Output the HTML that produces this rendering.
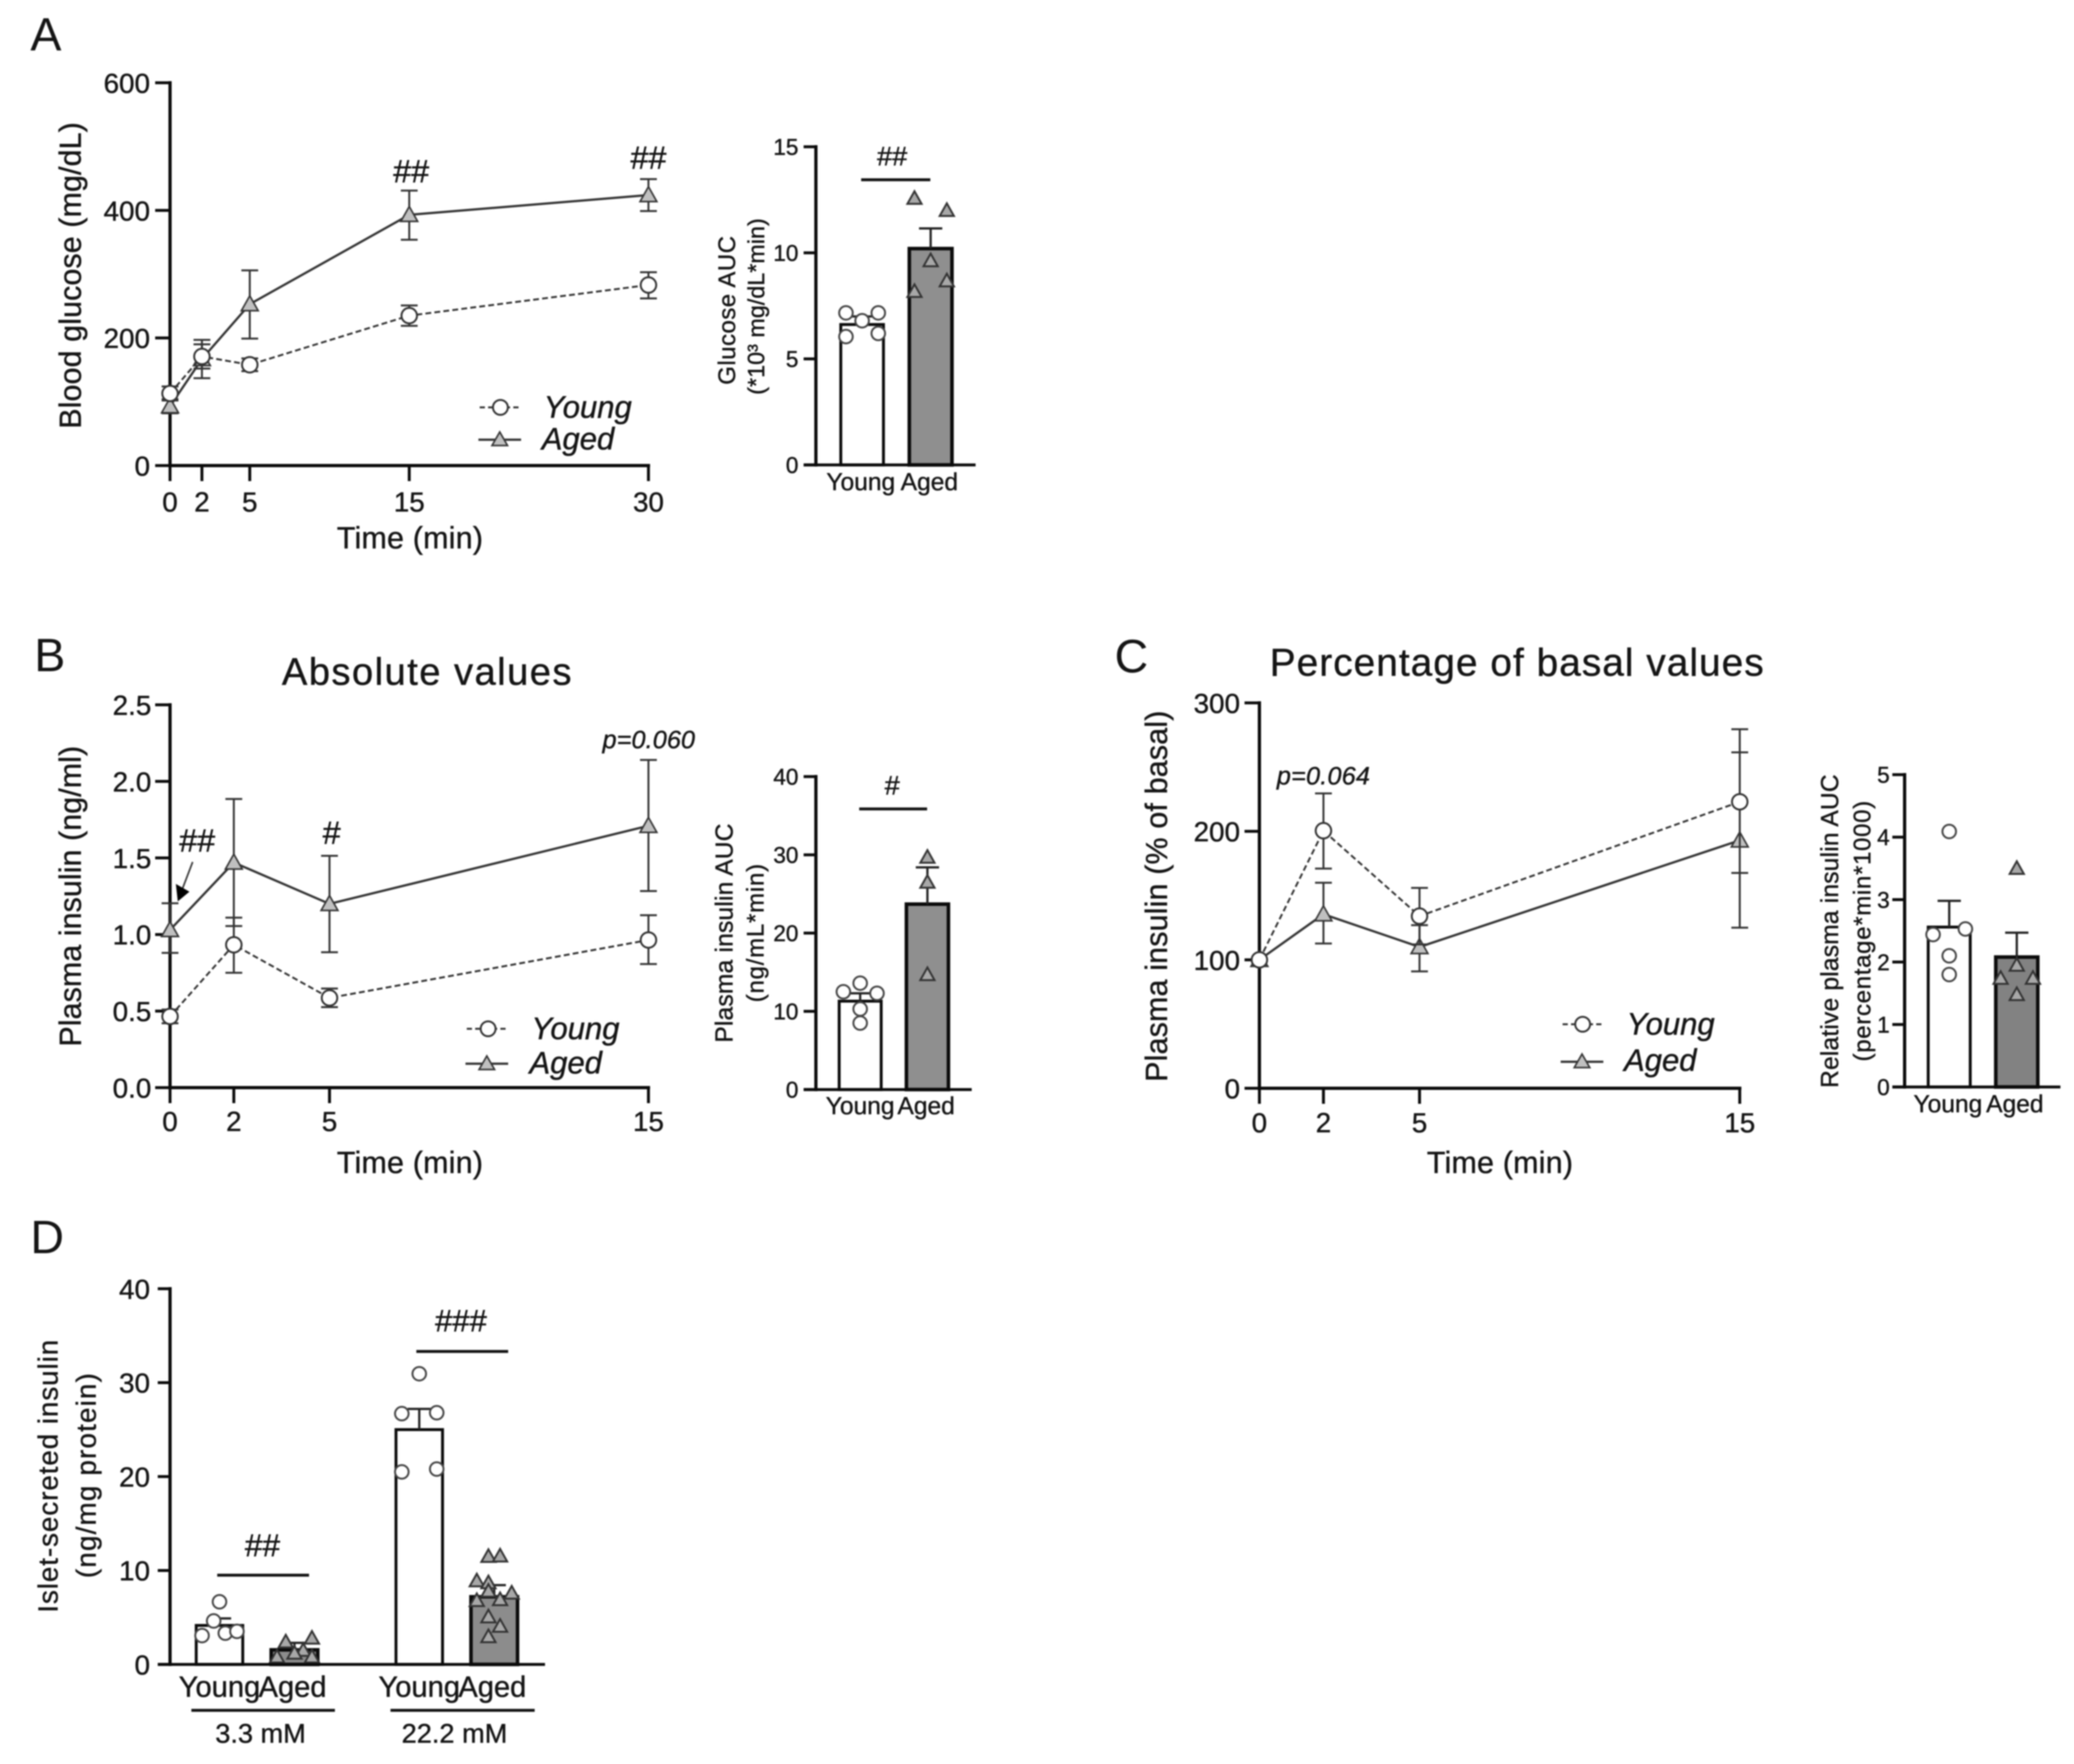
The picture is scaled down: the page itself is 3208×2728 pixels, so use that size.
<!DOCTYPE html>
<html lang="en">
<head>
<meta charset="utf-8">
<title>Glucose and insulin in young and aged groups</title>
<style>
html,body{margin:0;padding:0;background:#fff;width:3208px;height:2728px;overflow:hidden}
svg{display:block;filter:blur(1px)}
text{font-family:"Liberation Sans",Arial,sans-serif;fill:#141414;stroke:#141414;stroke-width:.6px}
text.thin{stroke:none}
</style>
</head>
<body>
<svg id="fig" xmlns="http://www.w3.org/2000/svg" width="3208" height="2728" viewBox="0 0 3208 2728">
<rect width="3208" height="2728" fill="#fff"/>

<g id="panel-a">
  <text class="thin" x="47" y="78" font-size="72">A</text>
  <text transform="translate(125 426) rotate(-90)" text-anchor="middle" font-size="47" textLength="474">Blood glucose (mg/dL)</text>
  <text x="634" y="848" text-anchor="middle" font-size="47" textLength="226">Time (min)</text>
  <text x="636" y="282" text-anchor="middle" font-size="50">##</text>
  <text x="1003" y="261" text-anchor="middle" font-size="50">##</text>
  <g>
    <line x1="742" y1="630" x2="807" y2="630" stroke="#333" stroke-width="3" stroke-dasharray="8 5"/>
    <circle cx="774" cy="630" r="11.5" fill="#fff" stroke="#333" stroke-width="3"/>
    <text x="841" y="646" font-size="48" font-style="italic">Young</text>
    <line x1="740" y1="680" x2="806" y2="680" stroke="#333" stroke-width="3.5"/>
    <polygon points="773,668 785,689 761,689" fill="#c0c0c0" stroke="#333" stroke-width="2.5"/>
    <text x="838" y="695" font-size="48" font-style="italic">Aged</text>
  </g>
</g>
<g id="panel-a-auc">
  <text transform="translate(1137 480) rotate(-90)" text-anchor="middle" font-size="37" textLength="230">Glucose AUC</text>
  <text transform="translate(1182 474) rotate(-90)" text-anchor="middle" font-size="36" textLength="273">(*10³ mg/dL*min)</text>
  <text x="1380" y="256" text-anchor="middle" font-size="42">##</text>
  <line x1="1332" y1="278" x2="1439" y2="278" stroke="#111" stroke-width="4.5"/>
</g>

<g id="panel-b">
  <text class="thin" x="53" y="1038" font-size="72">B</text>
  <text x="436" y="1059" font-size="59" textLength="448">Absolute values</text>
  <text transform="translate(125 1386) rotate(-90)" text-anchor="middle" font-size="47" textLength="465">Plasma insulin (ng/ml)</text>
  <text x="634" y="1814" text-anchor="middle" font-size="47" textLength="226">Time (min)</text>
  <text x="305" y="1317" text-anchor="middle" font-size="50">##</text>
  <line x1="298" y1="1333" x2="282" y2="1375" stroke="#333" stroke-width="2.5"/>
  <polygon points="272,1367 293,1379 275,1394" fill="#000"/>
  <text x="513" y="1305" text-anchor="middle" font-size="50">#</text>
  <text x="932" y="1157" font-size="39" font-style="italic" textLength="143">p=0.060</text>
  <g>
    <line x1="722" y1="1591" x2="787" y2="1591" stroke="#333" stroke-width="3" stroke-dasharray="8 5"/>
    <circle cx="755" cy="1591" r="11.5" fill="#fff" stroke="#333" stroke-width="3"/>
    <text x="822" y="1607" font-size="48" font-style="italic">Young</text>
    <line x1="720" y1="1645" x2="786" y2="1645" stroke="#333" stroke-width="3.5"/>
    <polygon points="753,1633 765,1654 741,1654" fill="#c0c0c0" stroke="#333" stroke-width="2.5"/>
    <text x="819" y="1660" font-size="48" font-style="italic">Aged</text>
  </g>
</g>
<g id="panel-b-auc">
  <text transform="translate(1133 1443) rotate(-90)" text-anchor="middle" font-size="38" textLength="339">Plasma insulin AUC</text>
  <text transform="translate(1181 1443) rotate(-90)" text-anchor="middle" font-size="37" textLength="214">(ng/mL*min)</text>
  <text x="1380" y="1229" text-anchor="middle" font-size="42">#</text>
  <line x1="1329" y1="1251" x2="1434" y2="1251" stroke="#111" stroke-width="4.5"/>
</g>

<g id="panel-c">
  <text class="thin" x="1724" y="1040" font-size="72">C</text>
  <text x="1964" y="1045" font-size="60" textLength="764">Percentage of basal values</text>
  <text transform="translate(1805 1386) rotate(-90)" text-anchor="middle" font-size="47" textLength="574">Plasma insulin (% of basal)</text>
  <text x="2320" y="1814" text-anchor="middle" font-size="47" textLength="226">Time (min)</text>
  <text x="1975" y="1213" font-size="39" font-style="italic" textLength="144">p=0.064</text>
  <g>
    <line x1="2417" y1="1584" x2="2482" y2="1584" stroke="#333" stroke-width="3" stroke-dasharray="8 5"/>
    <circle cx="2448" cy="1584" r="11.5" fill="#fff" stroke="#333" stroke-width="3"/>
    <text x="2516" y="1600" font-size="48" font-style="italic">Young</text>
    <line x1="2414" y1="1642" x2="2480" y2="1642" stroke="#333" stroke-width="3.5"/>
    <polygon points="2447,1630 2459,1651 2435,1651" fill="#c0c0c0" stroke="#333" stroke-width="2.5"/>
    <text x="2512" y="1656" font-size="48" font-style="italic">Aged</text>
  </g>
</g>
<g id="panel-c-auc">
  <text transform="translate(2843 1440) rotate(-90)" text-anchor="middle" font-size="38" textLength="485">Relative plasma insulin AUC</text>
  <text transform="translate(2893 1440) rotate(-90)" text-anchor="middle" font-size="37" textLength="403">(percentage*min*1000)</text>
</g>

<g id="panel-d">
  <text class="thin" x="47" y="1938" font-size="72">D</text>
  <text transform="translate(89 2283) rotate(-90)" text-anchor="middle" font-size="43" textLength="422">Islet-secreted insulin</text>
  <text transform="translate(148 2282) rotate(-90)" text-anchor="middle" font-size="43" textLength="317">(ng/mg protein)</text>
  <text x="406" y="2407" text-anchor="middle" font-size="49">##</text>
  <line x1="336" y1="2436" x2="478" y2="2436" stroke="#111" stroke-width="4.5"/>
  <text x="713" y="2059" text-anchor="middle" font-size="48">###</text>
  <line x1="644" y1="2090" x2="786" y2="2090" stroke="#111" stroke-width="4.5"/>
  <line x1="296" y1="2645" x2="518" y2="2645" stroke="#111" stroke-width="4.5"/>
  <line x1="604" y1="2645" x2="827" y2="2645" stroke="#111" stroke-width="4.5"/>
  <text x="403" y="2695" text-anchor="middle" font-size="42">3.3 mM</text>
  <text x="703" y="2695" text-anchor="middle" font-size="42">22.2 mM</text>
</g>
</svg>

<script>
/* ---------- Panel A: blood glucose time course ---------- */
const glucoseTimes = [0, 2, 5, 15, 30];
const glucoseYoung = [113, 171, 158, 235, 283];
const glucoseYoungHigh = [124, 190, 168, 251, 303];
const glucoseYoungLow = [102, 152, 148, 219, 262];
const glucoseAged = [93, 167, 253, 393, 424];
const glucoseAgedHigh = [104, 197, 306, 431, 449];
const glucoseAgedLow = [82, 137, 199, 354, 399];
const glucoseTicks = [0, 200, 400, 600];
const glucoseTickLabels = ['0', '200', '400', '600'];

/* Panel A: glucose AUC */
const groupLabels = ['Young', 'Aged'];
const glucoseAucMeans = [6.62, 10.2];
const glucoseAucErrTop = [7.0, 11.15];
const glucoseAucYoungPoints = [7.17, 7.17, 6.8, 6.05, 6.2];
const glucoseAucAgedPoints = [12.57, 12.0, 9.63, 8.68, 8.18];
const glucoseAucTicks = [0, 5, 10, 15];
const glucoseAucTickLabels = ['0', '5', '10', '15'];

/* ---------- Panel B: plasma insulin absolute ---------- */
const insulinTimes = [0, 2, 5, 15];
const insulinYoung = [0.465, 0.933, 0.586, 0.964];
const insulinYoungHigh = [0.51, 1.11, 0.647, 1.126];
const insulinYoungLow = [0.42, 0.75, 0.526, 0.807];
const insulinAged = [1.03, 1.47, 1.2, 1.71];
const insulinAgedHigh = [1.204, 1.885, 1.514, 2.14];
const insulinAgedLow = [0.88, 1.055, 0.884, 1.284];
const insulinTicks = [0, 0.5, 1, 1.5, 2, 2.5];
const insulinTickLabels = ['0.0', '0.5', '1.0', '1.5', '2.0', '2.5'];

/* Panel B: insulin AUC */
const insulinAucMeans = [11.3, 23.7];
const insulinAucErrTop = [12.3, 28.4];
const insulinAucYoungPoints = [13.6, 12.5, 12.3, 10.3, 8.5];
const insulinAucAgedPoints = [29.7, 26.5, 14.7];
const insulinAucTicks = [0, 10, 20, 30, 40];
const insulinAucTickLabels = ['0', '10', '20', '30', '40'];

/* ---------- Panel C: plasma insulin % of basal ---------- */
const basalTimes = [0, 2, 5, 15];
const basalYoung = [100, 200.5, 134, 223];
const basalYoungHigh = [100, 229.5, 156, 261.5];
const basalYoungLow = [100, 171, 112, 167.6];
const basalAged = [100, 135.5, 110, 193];
const basalAgedHigh = [100, 160, 127, 279.5];
const basalAgedLow = [100, 112.7, 91, 125];
const basalTicks = [0, 100, 200, 300];
const basalTickLabels = ['0', '100', '200', '300'];

/* Panel C: relative insulin AUC */
const relativeAucMeans = [2.56, 2.08];
const relativeAucErrTop = [2.98, 2.47];
const relativeAucYoungPoints = [4.09, 2.53, 2.44, 2.1, 1.8];
const relativeAucAgedPoints = [3.5, 1.95, 1.74, 1.74, 1.48];
const relativeAucTicks = [0, 1, 2, 3, 4, 5];
const relativeAucTickLabels = ['0', '1', '2', '3', '4', '5'];

/* ---------- Panel D: islet-secreted insulin ---------- */
const isletLabels = ['Young', 'Aged', 'Young', 'Aged'];
const isletMeans = [4.15, 1.55, 25.0, 7.2];
const isletErrTop = [4.9, 2.3, 27.2, 8.44];
const isletYoungLowPoints = [6.67, 4.63, 3.07, 3.33, 3.52];
const isletAgedLowPoints = [2.4, 2.8, 1.5, 1.2, 0.8, 0.8];
const isletYoungHighPoints = [30.95, 26.7, 26.8, 20.5, 20.8];
const isletAgedHighPoints = [11.5, 11.55, 8.9, 8.7, 7.8, 7.6, 6.8, 6.9, 5.07, 4.07, 2.96];
const isletTicks = [0, 10, 20, 30, 40];
const isletTickLabels = ['0', '10', '20', '30', '40'];

const NS = 'http://www.w3.org/2000/svg';
function el(parent, tag, attrs, name) {
  const n = document.createElementNS(NS, tag);
  for (const k in attrs) n.setAttribute(k, attrs[k]);
  
  
  parent.appendChild(n);
  return n;
}
function linear(d0, d1, r0, r1) {
  return function (v) { return r0 + (v - d0) * (r1 - r0) / (d1 - d0); };
}
function seg(p, x1, y1, x2, y2, stroke, w, name, dash) {
  const a = { x1: x1, y1: y1, x2: x2, y2: y2, stroke: stroke, 'stroke-width': w };
  if (dash) a['stroke-dasharray'] = dash;
  return el(p, 'line', a, name);
}
function label(p, x, y, str, size, anchor, name) {
  const t = el(p, 'text', { x: x, y: y, 'font-size': size, 'text-anchor': anchor }, name);
  t.textContent = str;
  return t;
}
function triangle(p, x, y, s, fill, stroke, w, name) {
  const pts = x + ',' + (y - s) + ' ' + (x + s) + ',' + (y + s * 0.78) + ' ' + (x - s) + ',' + (y + s * 0.78);
  return el(p, 'polygon', { points: pts, fill: fill, stroke: stroke, 'stroke-width': w }, name);
}
function circle(p, x, y, r, w, stroke, name) {
  return el(p, 'circle', { cx: x, cy: y, r: r, fill: '#fff', stroke: stroke, 'stroke-width': w }, name);
}
function yAxis(p, axisX, sy, ticks, labels, tickLen, fontSize, textRight, bottom, top) {
  const g = el(p, 'g', {}, 'y-axis');
  seg(g, axisX, bottom + 2.5, axisX, top - 2.5, '#0a0a0a', 5, 'y-axis-line');
  ticks.forEach(function (t, i) {
    const y = sy(t);
    seg(g, axisX - tickLen, y, axisX, y, '#0a0a0a', 4.5, 'y-tick');
    label(g, textRight, y + fontSize * 0.36, labels[i], fontSize, 'end', 'y-tick-label');
  });
}

function lineChart(id, c) {
  const p = document.getElementById(id);
  const sx = linear(0, c.times[c.times.length - 1], c.x0, c.x1);
  const sy = linear(0, c.ticks[c.ticks.length - 1], c.y0, c.y1);
  yAxis(p, c.x0, sy, c.ticks, c.tickLabels, 23, 43, c.textRight, c.y0, c.y1);
  const gx = el(p, 'g', {}, 'x-axis');
  seg(gx, c.x0 - 2.5, c.y0, c.x1 + 2.5, c.y0, '#0a0a0a', 5, 'x-axis-line');
  c.times.forEach(function (t) {
    seg(gx, sx(t), c.y0, sx(t), c.y0 + 24, '#0a0a0a', 4.5, 'x-tick');
    label(gx, sx(t), c.y0 + c.xLabelOffset, String(t), 43, 'middle', 'x-tick-label');
  });
  function series(vals, hi, lo, kind) {
    const g = el(p, 'g', {}, kind + '-series');
    const pts = vals.map(function (v, i) { return sx(c.times[i]) + ',' + sy(v); }).join(' ');
    const lineAttrs = { points: pts, fill: 'none', stroke: '#333', 'stroke-width': kind === 'young' ? 3 : 3.5 };
    if (kind === 'young') lineAttrs['stroke-dasharray'] = '9 5';
    el(g, 'polyline', lineAttrs, kind + '-line');
    vals.forEach(function (v, i) {
      const x = sx(c.times[i]);
      if (hi[i] !== lo[i]) {
        seg(g, x, sy(hi[i]), x, sy(lo[i]), '#333', 3, kind + '-error-bar');
        seg(g, x - 13, sy(hi[i]), x + 13, sy(hi[i]), '#333', 3, kind + '-error-cap-high');
        seg(g, x - 13, sy(lo[i]), x + 13, sy(lo[i]), '#333', 3, kind + '-error-cap-low');
      }
      if (kind === 'young') circle(g, x, sy(v), 12, 3, '#333', 'young-point');
      else triangle(g, x, sy(v), 13, '#c0c0c0', '#333', 2.5, 'aged-point');
    });
  }
  series(c.aged, c.agedHigh, c.agedLow, 'aged');
  series(c.young, c.youngHigh, c.youngLow, 'young');
}

function barChart(id, c) {
  const p = document.getElementById(id);
  const sy = linear(0, c.ticks[c.ticks.length - 1], c.y0, c.y1);
  const center = function (i) { return c.start + i * c.step + Math.floor(i / 2) * (c.gap || 0); };
  yAxis(p, c.axisX, sy, c.ticks, c.tickLabels, 19, c.fontSize, c.textRight, c.y0, c.y1);
  c.means.forEach(function (m, i) {
    const aged = i % 2 === 1;
    const g = el(p, 'g', {}, (aged ? 'aged' : 'young') + '-bar-group');
    const x = center(i);
    const top = sy(m);
    el(g, 'rect', { x: x - c.width / 2, y: top, width: c.width, height: c.y0 - top,
      fill: aged ? c.fill : '#fff', stroke: '#0a0a0a', 'stroke-width': aged ? 5.5 : 4.5 }, 'bar');
    seg(g, x, top, x, sy(c.errTop[i]), '#222', 3.5, 'error-bar');
    seg(g, x - 18, sy(c.errTop[i]), x + 18, sy(c.errTop[i]), '#222', 3.5, 'error-cap');
    c.points[i].forEach(function (v, j) {
      const px = x + c.slots[i][j] * c.slot;
      if (aged) triangle(g, px, sy(v), 11, '#a8a8a8', '#333', 3, 'aged-point');
      else circle(g, px, sy(v), 10.5, 3, '#444', 'young-point');
    });
    label(g, x + c.labelShift[i], c.y0 + c.labelOffset, c.labels[i], c.labelSize, 'middle', 'category-label');
  });
  seg(p, c.axisX - 19, c.y0, c.xEnd, c.y0, '#0a0a0a', 4.5, 'x-axis-line');
}

lineChart('panel-a', { times: glucoseTimes, young: glucoseYoung, youngHigh: glucoseYoungHigh, youngLow: glucoseYoungLow,
  aged: glucoseAged, agedHigh: glucoseAgedHigh, agedLow: glucoseAgedLow, ticks: glucoseTicks, tickLabels: glucoseTickLabels,
  x0: 263, x1: 1003, y0: 720, y1: 128, textRight: 232, xLabelOffset: 71 });
lineChart('panel-b', { times: insulinTimes, young: insulinYoung, youngHigh: insulinYoungHigh, youngLow: insulinYoungLow,
  aged: insulinAged, agedHigh: insulinAgedHigh, agedLow: insulinAgedLow, ticks: insulinTicks, tickLabels: insulinTickLabels,
  x0: 263, x1: 1003, y0: 1682, y1: 1090, textRight: 234, xLabelOffset: 67 });
lineChart('panel-c', { times: basalTimes, young: basalYoung, youngHigh: basalYoungHigh, youngLow: basalYoungLow,
  aged: basalAged, agedHigh: basalAgedHigh, agedLow: basalAgedLow, ticks: basalTicks, tickLabels: basalTickLabels,
  x0: 1948, x1: 2691, y0: 1683, y1: 1087, textRight: 1918, xLabelOffset: 68 });

barChart('panel-a-auc', { means: glucoseAucMeans, errTop: glucoseAucErrTop, labels: groupLabels,
  points: [glucoseAucYoungPoints, glucoseAucAgedPoints], slots: [[-1, 1, 0, -1, 1], [-1, 1, 0, 1, -1]], slot: 25,
  ticks: glucoseAucTicks, tickLabels: glucoseAucTickLabels, axisX: 1262, xEnd: 1509, y0: 719, y1: 227,
  start: 1333.5, step: 106, width: 66, fill: '#8f8f8f', fontSize: 35, textRight: 1235, labelSize: 38, labelOffset: 39, labelShift: [-2, -2] });
barChart('panel-b-auc', { means: insulinAucMeans, errTop: insulinAucErrTop, labels: groupLabels,
  points: [insulinAucYoungPoints, insulinAucAgedPoints], slots: [[0, -1, 1, 0, 0], [0, 0, 0]], slot: 26,
  ticks: insulinAucTicks, tickLabels: insulinAucTickLabels, axisX: 1262, xEnd: 1503, y0: 1685, y1: 1201,
  start: 1330.5, step: 104, width: 65, fill: '#8f8f8f', fontSize: 35, textRight: 1235, labelSize: 38, labelOffset: 38, labelShift: [0, -2] });
barChart('panel-c-auc', { means: relativeAucMeans, errTop: relativeAucErrTop, labels: groupLabels,
  points: [relativeAucYoungPoints, relativeAucAgedPoints], slots: [[0, 1, -1, 0, 0], [0, 0, -1, 1, 0]], slot: 25,
  ticks: relativeAucTicks, tickLabels: relativeAucTickLabels, axisX: 2946, xEnd: 3187, y0: 1681, y1: 1198,
  start: 3015, step: 104.5, width: 65, fill: '#828282', fontSize: 35, textRight: 2923, labelSize: 38, labelOffset: 39, labelShift: [-2, -3] });
barChart('panel-d', { means: isletMeans, errTop: isletErrTop, labels: isletLabels,
  points: [isletYoungLowPoints, isletAgedLowPoints, isletYoungHighPoints, isletAgedHighPoints],
  slots: [[0, -1, -3, 1, 3], [-1.5, 3, 1.5, 0, -3, 3], [0, -3, 3, -3, 3], [-1, 1, -3, -1, -1, 3, -3, 1, -1, 1, -1]], slot: 9,
  ticks: isletTicks, tickLabels: isletTickLabels, axisX: 263, xEnd: 843, y0: 2574, y1: 1993,
  start: 339.5, step: 116, gap: 77, width: 72, fill: '#8c8c8c', fontSize: 43, textRight: 232, labelSize: 45, labelOffset: 50, labelShift: [0, -3, 0, -3] });
</script>
</body>
</html>
